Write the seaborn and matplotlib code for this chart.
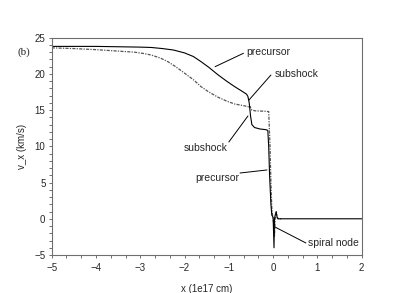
import matplotlib
matplotlib.use("Agg")
import matplotlib.pyplot as plt
import seaborn as sns
import pandas as pd
from matplotlib.ticker import MultipleLocator

# Upper curve (solid black)
x_solid = [-5.0, -4.0, -3.5, -3.0, -2.75, -2.5, -2.25, -2.0, -1.8, -1.63, -1.45, -1.25,
           -1.05, -0.87, -0.7, -0.6, -0.57,
           -0.54, -0.51, -0.48, -0.42, -0.3, -0.16, -0.12, -0.1, -0.08, -0.05, -0.03,
           0.0, 0.02, 0.03, 0.05, 0.07, 0.09, 0.12, 0.3, 1.0, 2.0]
v_solid = [23.8, 23.8, 23.75, 23.7, 23.65, 23.5, 23.3, 22.9, 22.4, 21.7, 20.9, 19.9,
           19.0, 18.25, 17.6, 17.2, 16.9,
           16.0, 14.2, 13.0, 12.6, 12.4, 12.3, 12.2, 10.0, 6.0, 2.0, 0.5,
           0.2, -4.0, 0.0, 0.6, 0.9, 0.2, 0.0, 0.0, 0.0, 0.0]

# Lower curve (grey dash-dot)
x_dash = [-5.0, -4.5, -4.0, -3.5, -3.13, -2.9, -2.75, -2.55, -2.38, -2.2, -2.0, -1.8,
          -1.63, -1.45, -1.25, -1.05, -0.87, -0.7, -0.57,
          -0.54, -0.52, -0.48, -0.4, -0.2, -0.1, -0.07, -0.05, -0.03, -0.01,
          0.01, 0.03, 0.05, 0.07, 0.1, 0.2]
v_dash = [23.6, 23.5, 23.35, 23.15, 23.0, 22.8, 22.6, 22.2, 21.7, 21.0, 20.1, 19.2,
          18.25, 17.5, 16.8, 16.25, 15.85, 15.65, 15.5,
          15.3, 15.5, 15.0, 14.9, 14.85, 14.8, 10.0, 5.0, 1.5, 0.3,
          -0.5, -2.5, 0.2, 1.0, 0.0, 0.0]

x_ticks = [-5, -4, -3, -2, -1, 0, 1, 2]
y_ticks = [-5, 0, 5, 10, 15, 20, 25]

sns.set_style("white")
plt.rcParams['font.family'] = ['Liberation Sans', 'DejaVu Sans']

fig = plt.figure(figsize=(4.14, 2.93), dpi=100)
ax = fig.add_axes([51.7/414, (293-255)/293, 310/414, 217.3/293])

df_s = pd.DataFrame({"x": x_solid, "v": v_solid})
df_d = pd.DataFrame({"x": x_dash, "v": v_dash})
sns.lineplot(data=df_d, x="x", y="v", sort=False, estimator=None, ax=ax,
             color="#555555", lw=0.9, linestyle=(0, (2.5, 1, 1, 1)))
sns.lineplot(data=df_s, x="x", y="v", sort=False, estimator=None, ax=ax,
             color="black", lw=0.8)

ax.set_xlim(-5, 2)
ax.set_ylim(-5, 25)
ax.set_xticks(x_ticks)
ax.set_yticks(y_ticks)
ax.xaxis.set_minor_locator(MultipleLocator(1/3))
ax.yaxis.set_minor_locator(MultipleLocator(1))
ax.set_xticklabels([f"\u2212{abs(t)}" if t < 0 else str(t) for t in x_ticks])
ax.set_yticklabels([f"\u2212{abs(t)}" if t < 0 else str(t) for t in y_ticks])

frame_c = "#6e6e6e"
for s in ax.spines.values():
    s.set_color(frame_c)
    s.set_linewidth(0.8)
ax.tick_params(which="both", bottom=True, left=True, top=False, right=False,
               direction="out", length=2.5, width=0.7, color=frame_c,
               labelsize=7, pad=2)
ax.tick_params(axis="x", which="major", pad=3)

ax.set_xlabel("x (1e17 cm)", fontsize=7, labelpad=8)
ax.set_ylabel("v_x (km/s)", fontsize=7, labelpad=5)

fs = 7.5
# annotations
ax.plot([-1.31, -0.67], [21.0, 22.85], color="black", lw=0.7)
ax.text(-0.60, 23.0, "precursor", fontsize=fs, va="center", ha="left")

ax.plot([-0.545, -0.05], [16.4, 19.85], color="black", lw=0.7)
ax.text(0.04, 20.0, "subshock", fontsize=fs, va="center", ha="left")

ax.plot([-1.0, -0.568], [10.6, 14.2], color="black", lw=0.7)
ax.text(-1.52, 9.77, "subshock", fontsize=fs, va="center", ha="center")

ax.plot([-0.748, -0.139], [6.32, 6.74], color="black", lw=0.7)
ax.text(-1.26, 5.63, "precursor", fontsize=fs, va="center", ha="center")

ax.plot([0.04, 0.74], [-1.13, -3.34], color="black", lw=0.7)
ax.text(0.785, -3.34, "spiral node", fontsize=fs, va="center", ha="left")

fig.text(18/414, (293-52)/293, "(b)", fontsize=8, family=["Liberation Serif", "DejaVu Serif"],
         va="center", ha="left")

fig.savefig("out.png", dpi=100)
